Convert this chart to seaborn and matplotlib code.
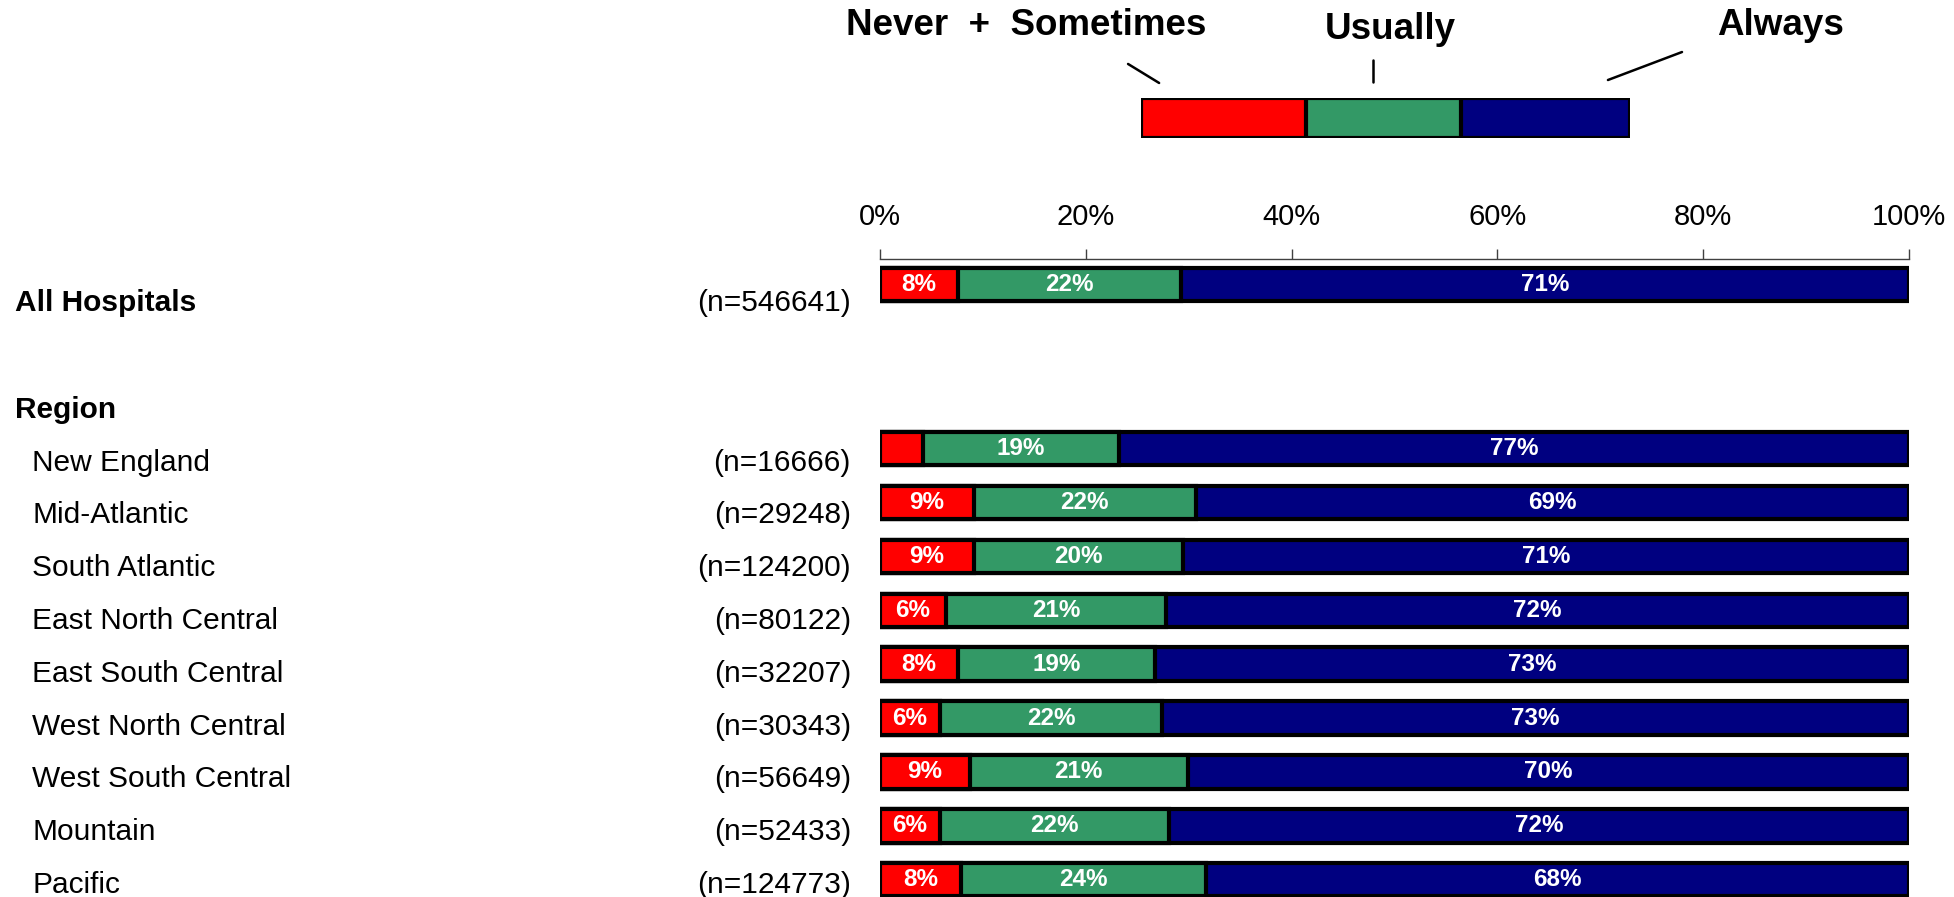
import pandas as pd
import matplotlib.pyplot as plt
from matplotlib.lines import Line2D
from matplotlib.transforms import blended_transform_factory
import seaborn as sns

# data (percent of patients)
groups = ["All Hospitals", "New England", "Mid-Atlantic", "South Atlantic",
          "East North Central", "East South Central", "West North Central",
          "West South Central", "Mountain", "Pacific"]
n_sizes = [546641, 16666, 29248, 124200, 80122, 32207, 30343, 56649, 52433, 124773]
never_sometimes = [7.6, 4.2, 9.1, 9.1, 6.4, 7.6, 5.8, 8.7, 5.8, 7.9]
usually = [21.6, 19.0, 21.6, 20.3, 21.4, 19.1, 21.6, 21.2, 22.3, 23.8]
always = [70.8, 76.8, 69.3, 70.6, 72.2, 73.3, 72.6, 70.1, 71.9, 68.3]

legend_names = ["Never  +  Sometimes", "Usually", "Always"]
legend_share = [34, 32, 35]
tick_values = [0, 20, 40, 60, 80, 100]

RED = "#FF0000"
GREEN = "#339966"
NAVY = "#000080"
COLORS = [RED, GREEN, NAVY]

# vertical layout: overall row, gap, "Region" header, then the regions
row_pos = [0.0] + [3.04 + i for i in range(len(groups) - 1)]
# the text rows sit a little lower than the bars and are slightly tighter
label_pos = [0.34] + [3.30 + 0.98 * i for i in range(len(groups) - 1)]
header_pos = 2.33

df = pd.DataFrame({
    "group": groups,
    "pos": row_pos,
    "red": never_sometimes,
    "green": usually,
    "blue": always,
})
df["to_green"] = df["red"] + df["green"]
df["to_blue"] = df["to_green"] + df["blue"]

sns.set_theme(style="white")
plt.rcParams["font.family"] = ["Liberation Sans", "DejaVu Sans"]
plt.rcParams["text.color"] = "black"
plt.rcParams["xtick.color"] = "black"

fig = plt.figure(figsize=(19.54, 8.97), dpi=100)
ax = fig.add_axes([0.4504, 0.0, 0.5266, 0.7113])

bar_kw = dict(data=df, y="pos", orient="h", native_scale=True, width=0.62,
              saturation=1, errorbar=None, edgecolor="black", linewidth=3, ax=ax)
sns.barplot(x="to_blue", color=NAVY, **bar_kw)
sns.barplot(x="to_green", color=GREEN, **bar_kw)
sns.barplot(x="red", color=RED, **bar_kw)

# percent labels inside the segments
for _, row in df.iterrows():
    left = 0
    for val in (row["red"], row["green"], row["blue"]):
        if val >= 5:
            ax.text(left + val / 2, row["pos"], f"{round(val)}%", ha="center",
                    va="center", color="white", fontsize=17.5, fontweight="bold")
        left += val

ax.set_xlim(0, 100)
ax.set_ylim(11.36, -0.477)
ax.set_xlabel("")
ax.set_ylabel("")
ax.set_yticks([])
ax.xaxis.tick_top()
ax.set_xticks(tick_values)
ax.set_xticklabels([f"{t}%" for t in tick_values], fontsize=21)
ax.tick_params(axis="x", direction="out", length=7, width=1, color="#404040",
               labelcolor="black", pad=13, top=True, bottom=False)
for side in ["bottom", "left", "right"]:
    ax.spines[side].set_visible(False)
ax.spines["top"].set_color("#404040")
ax.spines["top"].set_linewidth(1)

# row labels on the left
lab_tr = blended_transform_factory(fig.transFigure, ax.transData)
for i, g in enumerate(groups):
    ypos = label_pos[i]
    if i == 0:
        ax.text(0.0077, ypos, g, transform=lab_tr, ha="left", va="center",
                fontsize=21.5, fontweight="bold")
    else:
        ax.text(0.0164, ypos, g, transform=lab_tr, ha="left", va="center",
                fontsize=21.5)
    ax.text(0.4355, ypos, f"(n={n_sizes[i]})", transform=lab_tr,
            ha="right", va="center", fontsize=21.5)
ax.text(0.0077, header_pos, "Region", transform=lab_tr,
        ha="left", va="center", fontsize=21.5, fontweight="bold")

# legend bar at the top
lax = fig.add_axes([0.584, 0.8462, 0.2503, 0.0446])
leg = pd.DataFrame({"name": legend_names, "share": legend_share})
leg["end"] = leg["share"].cumsum()
for k in range(len(leg) - 1, -1, -1):
    sns.barplot(x=[leg["end"][k]], y=[0], orient="h", width=1, color=COLORS[k],
                saturation=1, errorbar=None, edgecolor="black", linewidth=3, ax=lax)
lax.set_xlim(0, leg["end"].iloc[-1])
lax.set_ylim(0.5, -0.5)
lax.axis("off")

fig.text(0.525, 0.972, legend_names[0], ha="center", va="center",
         fontsize=26.5, fontweight="bold")
fig.text(0.7115, 0.9666, legend_names[1], ha="center", va="center",
         fontsize=26.5, fontweight="bold")
fig.text(0.911, 0.972, legend_names[2], ha="center", va="center",
         fontsize=26.5, fontweight="bold")

leaders = [((0.5773, 0.5932), (0.9287, 0.9075)),
           ((0.7027, 0.7027), (0.9331, 0.9086)),
           ((0.8608, 0.8229), (0.9420, 0.9108))]
for xs, ys in leaders:
    fig.add_artist(Line2D(xs, ys, transform=fig.transFigure, color="black", lw=1.8))

fig.savefig("out.png", dpi=100)
